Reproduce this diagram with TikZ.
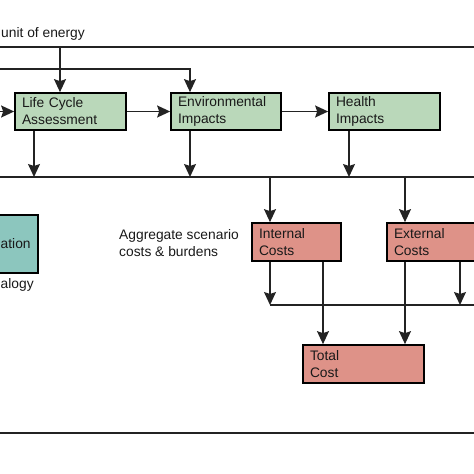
\documentclass[tikz,border=0pt]{standalone}
\usepackage{fontspec}
\setmainfont{Liberation Sans}
\usetikzlibrary{arrows.meta}
\definecolor{gfill}{RGB}{186,216,186}
\definecolor{rfill}{RGB}{222,146,136}
\definecolor{tfill}{RGB}{140,198,190}
\definecolor{ln}{RGB}{35,35,35}
\begin{document}
\begin{tikzpicture}[x=1pt,y=-1pt,
  every node/.style={font=\fontsize{13.8}{17}\selectfont, text=black!90},
  box/.style={draw=black, line width=1.7pt, inner xsep=7pt, inner ysep=0pt, align=left},
  gbox/.style={box, fill=gfill, minimum height=37pt},
  rbox/.style={box, fill=rfill, minimum height=38pt},
  wire/.style={draw=ln, line width=1.5pt},
  arr/.style={wire, -{Stealth[length=13pt,width=12pt,inset=2pt]}},
  plain/.style={inner sep=0pt}]
\useasboundingbox (0,0) rectangle (474,474);
\clip (0,0) rectangle (474,474);

% boxes
\node[gbox, text width=97pt] (lca) at (70.5,111.5) {Life Cycle\\Assessment};
\node[gbox, text width=96pt] (env) at (226,111.5) {Environmental\\Impacts};
\node[gbox, text width=97pt] (hea) at (384.5,111.5) {Health\\Impacts};
\node[rbox, text width=75pt] (int) at (296.5,242) {Internal\\Costs};
\node[rbox, text width=110pt] (ext) at (449,242) {External\\Costs};
\node[rbox, text width=107pt] (tot) at (363.5,364) {Total\\Cost};
\node[box, fill=tfill, minimum height=58pt, minimum width=120pt] (gen) at (-22,244) {};

% texts
\node[plain, anchor=base west] (unit) at (1,37.5) {unit of energy};
\node[plain, anchor=base west] (gtxt) at (0.5,248) {ation};
\node[plain, anchor=base west] (tech) at (0.5,288) {alogy};
\node[plain, anchor=north west, align=left] (agg) at (119,229.7) {Aggregate scenario\\costs \& burdens};

% top buses
\coordinate (b1l) at (0,47);   \coordinate (b1r) at (474,47);
\coordinate (b2l) at (0,69);   \coordinate (b2r) at (190,69);
\coordinate (inl) at (0,111.5);
\draw[wire] (b1l) -- (b1r);
\coordinate (t1) at (60,47);
\draw[arr] (t1) -- (t1 |- lca.north);
\draw[arr] (b2l) -- (b2r) -- (b2r |- env.north);
\draw[arr] (inl) -- (lca.west);
\draw[arr] (lca.east) -- (env.west);
\draw[arr] (env.east) -- (hea.west);

% middle bus
\coordinate (b3l) at (0,177);  \coordinate (b3r) at (474,177);
\draw[wire] (b3l) -- (b3r);
\coordinate (d1) at (34,130);  \coordinate (d2) at (190,130);  \coordinate (d3) at (349,130);
\draw[arr] (d1 |- lca.south) -- (d1 |- b3l);
\draw[arr] (d2 |- env.south) -- (d2 |- b3l);
\draw[arr] (d3 |- hea.south) -- (d3 |- b3l);
\coordinate (u1) at (270,177); \coordinate (u2) at (405,177);
\draw[arr] (u1) -- (u1 |- int.north);
\draw[arr] (u2) -- (u2 |- ext.north);

% cost bus
\coordinate (b4l) at (270,305); \coordinate (b4r) at (474,305);
\draw[wire] (b4l) -- (b4r);
\draw[arr] (u1 |- int.south) -- (b4l);
\coordinate (c1) at (323,261);
\draw[arr] (c1 |- int.south) -- (c1 |- tot.north);
\draw[arr] (u2 |- ext.south) -- (u2 |- tot.north);
\coordinate (c2) at (460,305);
\draw[arr] (c2 |- ext.south) -- (c2);

% bottom line
\coordinate (b5l) at (0,433); \coordinate (b5r) at (474,433);
\draw[wire] (b5l) -- (b5r);
\end{tikzpicture}
\end{document}
